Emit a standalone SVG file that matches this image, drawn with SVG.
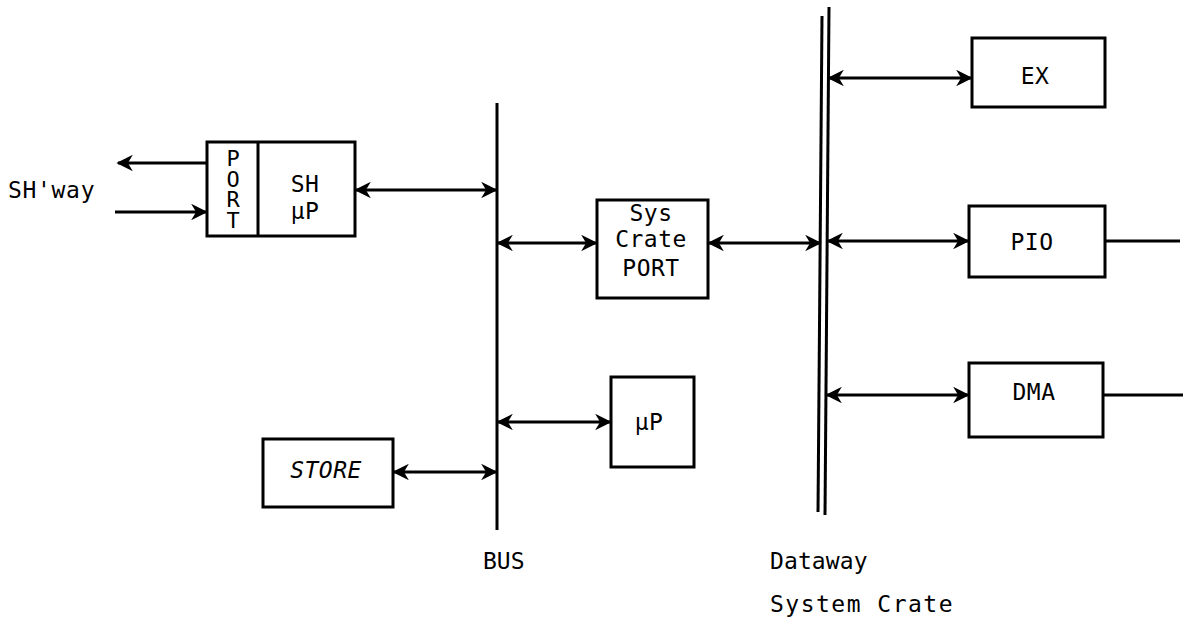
<svg xmlns="http://www.w3.org/2000/svg" width="1186" height="621" viewBox="0 0 1186 621">
<style>
.box{fill:#fff;stroke:#000;stroke-width:3}
.ln{fill:none;stroke:#000;stroke-width:3}
.t{font-family:"DejaVu Sans Mono","Liberation Mono",monospace;font-size:23px;fill:#000;letter-spacing:0.5px}
.c{text-anchor:middle}
.v{writing-mode:vertical-rl;text-orientation:upright;font-size:22px;letter-spacing:-4.5px}
</style>
<defs>
<marker id="ah" viewBox="0 0 10 10" refX="9" refY="5" markerWidth="5.5" markerHeight="5.5" orient="auto-start-reverse" markerUnits="strokeWidth">
<path d="M0,0 L10,5 L0,10 L3,5 Z" fill="#000"/>
</marker>
</defs>
<g id="connectors">
<line class="ln" x1="497" y1="103" x2="497" y2="530"/>
<line class="ln" x1="822" y1="16" x2="818" y2="512"/>
<line class="ln" x1="829" y1="7" x2="825" y2="515"/>
<line class="ln" x1="207" y1="163" x2="118" y2="163" marker-end="url(#ah)"/>
<line class="ln" x1="115" y1="212" x2="206" y2="212" marker-end="url(#ah)"/>
<line class="ln" x1="356" y1="190" x2="496" y2="190" marker-start="url(#ah)" marker-end="url(#ah)"/>
<line class="ln" x1="498" y1="243" x2="596" y2="243" marker-start="url(#ah)" marker-end="url(#ah)"/>
<line class="ln" x1="709" y1="243" x2="820" y2="243" marker-start="url(#ah)" marker-end="url(#ah)"/>
<line class="ln" x1="498" y1="422" x2="610" y2="422" marker-start="url(#ah)" marker-end="url(#ah)"/>
<line class="ln" x1="394" y1="472" x2="496" y2="472" marker-start="url(#ah)" marker-end="url(#ah)"/>
<line class="ln" x1="829" y1="78" x2="971" y2="78" marker-start="url(#ah)" marker-end="url(#ah)"/>
<line class="ln" x1="828" y1="241" x2="968" y2="241" marker-start="url(#ah)" marker-end="url(#ah)"/>
<line class="ln" x1="827" y1="395" x2="968" y2="395" marker-start="url(#ah)" marker-end="url(#ah)"/>
<line class="ln" x1="1105" y1="241" x2="1180" y2="241"/>
<line class="ln" x1="1103" y1="395" x2="1183" y2="395"/>
</g>
<g id="sh-up">
<rect class="box" x="207" y="142" width="148" height="94"/>
<line class="ln" x1="258" y1="142" x2="258" y2="236"/>
<text class="t v" x="233" y="146">PORT</text>
<text class="t c" x="305" y="192">SH</text>
<text class="t c" x="305" y="219">μP</text>
</g>
<g id="shway"><text class="t" x="8" y="198" textLength="87" lengthAdjust="spacing">SH'way</text></g>
<g id="sys-crate-port">
<rect class="box" x="597" y="200" width="111" height="98"/>
<text class="t c" x="651" y="221">Sys</text>
<text class="t c" x="651" y="247">Crate</text>
<text class="t c" x="651" y="276">PORT</text>
</g>
<g id="up">
<rect class="box" x="611" y="377" width="83" height="90"/>
<text class="t c" x="649" y="430">μP</text>
</g>
<g id="store">
<rect class="box" x="263" y="439" width="130" height="68"/>
<text class="t c" x="326" y="478" font-style="italic">STORE</text>
</g>
<g id="ex">
<rect class="box" x="972" y="38" width="133" height="69"/>
<text class="t c" x="1035" y="84">EX</text>
</g>
<g id="pio">
<rect class="box" x="969" y="206" width="136" height="71"/>
<text class="t c" x="1032" y="250">PIO</text>
</g>
<g id="dma">
<rect class="box" x="969" y="363" width="134" height="74"/>
<text class="t c" x="1034" y="400">DMA</text>
</g>
<g id="labels">
<text class="t" x="483" y="569" textLength="42" lengthAdjust="spacing">BUS</text>
<text class="t" x="770" y="569" textLength="98" lengthAdjust="spacing">Dataway</text>
<text class="t" x="770" y="612" textLength="183" lengthAdjust="spacing">System Crate</text>
</g>
</svg>
